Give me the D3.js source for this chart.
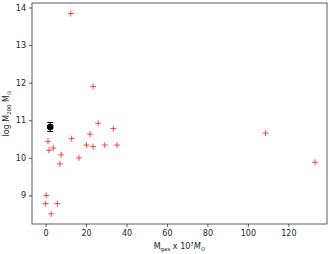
<!DOCTYPE html>
<html>
<head>
<meta charset="utf-8">
<script src="https://cdn.jsdelivr.net/npm/d3@7"></script>
<style>
  body { margin: 0; background: #fff; }
  text { font-family: "DejaVu Sans", sans-serif; fill: #222; }
</style>
</head>
<body>
<svg width="333" height="254"></svg>
<script>
// red points: gas mass (x 10^7 Msun) vs log M200
var gasMass = [12.5, 23.5, 26, 33.5, 22, 12.9, 1.2, 1.7, 3.8, 7.7, 7.1, 16.5, 20.2, 23.5, 29.3, 35.3, 0.35, 0, 5.8, 2.8, 108.7, 133.2];
var logM200 = [13.84, 11.9, 10.92, 10.78, 10.63, 10.51, 10.44, 10.2, 10.26, 10.08, 9.84, 10.0, 10.34, 10.30, 10.34, 10.34, 9.0, 8.78, 8.78, 8.51, 10.66, 9.88];
// the black point with error bar
var refX = [2.3];
var refY = [10.82];
var refErr = [0.12];

var xTicks = [0, 20, 40, 60, 80, 100, 120];
var yTicks = [9, 10, 11, 12, 13, 14];

var svg = d3.select("svg"),
    margin = {top: 3, right: 6, bottom: 30, left: 32},
    width = 333 - margin.left - margin.right,
    height = 254 - margin.top - margin.bottom,
    g = svg.append("g").attr("transform", "translate(" + margin.left + "," + margin.top + ")");

var x = d3.scaleLinear().domain([-6.7, 139.1]).range([0, width]);
var y = d3.scaleLinear().domain([8.24, 14.12]).range([height, 0]);

// axes
var xAxis = g.append("g")
    .attr("transform", "translate(0," + height + ")")
    .call(d3.axisBottom(x).tickValues(xTicks).tickFormat(d3.format("d")).tickSize(3).tickPadding(3));
var yAxis = g.append("g")
    .call(d3.axisLeft(y).tickValues(yTicks).tickFormat(d3.format("d")).tickSize(3).tickPadding(3));
[xAxis, yAxis].forEach(function(a) {
    a.select(".domain").remove();
    a.selectAll(".tick line").attr("stroke", "#333").attr("stroke-width", 0.8);
    a.selectAll(".tick text").style("font-size", "8px").attr("fill", "#222");
});

// frame
g.append("rect")
    .attr("width", width)
    .attr("height", height)
    .attr("fill", "none")
    .attr("stroke", "#333")
    .attr("stroke-width", 0.8);

// red + markers
var pts = gasMass.map((v, i) => ({x: v, y: logM200[i]}));
var s = 3;
g.selectAll(".plus")
    .data(pts)
    .enter().append("path")
    .attr("class", "plus")
    .attr("d", d => {
        var px = x(d.x), py = y(d.y);
        return "M" + (px - s) + "," + py + "H" + (px + s) + "M" + px + "," + (py - s) + "V" + (py + s);
    })
    .attr("stroke", "red")
    .attr("stroke-opacity", 0.7)
    .attr("stroke-width", 1);

// black point with error bar
var ref = refX.map((v, i) => ({x: v, y: refY[i], e: refErr[i]}));
var rg = g.selectAll(".ref").data(ref).enter().append("g").attr("class", "ref");
rg.append("line")
    .attr("x1", d => x(d.x)).attr("x2", d => x(d.x))
    .attr("y1", d => y(d.y - d.e)).attr("y2", d => y(d.y + d.e))
    .attr("stroke", "black").attr("stroke-width", 1);
[-1, 1].forEach(function(sg) {
    rg.append("line")
        .attr("x1", d => x(d.x) - 3).attr("x2", d => x(d.x) + 3)
        .attr("y1", d => y(d.y + sg * d.e)).attr("y2", d => y(d.y + sg * d.e))
        .attr("stroke", "black").attr("stroke-width", 1);
});
rg.append("circle")
    .attr("cx", d => x(d.x)).attr("cy", d => y(d.y))
    .attr("r", 3.3).attr("fill", "black");

// axis labels
var xl = svg.append("text")
    .attr("text-anchor", "middle")
    .attr("x", margin.left + width / 2)
    .attr("y", 249)
    .style("font-size", "8px");
xl.append("tspan").text("M");
xl.append("tspan").attr("dy", 2).style("font-size", "5.5px").text("gas");
xl.append("tspan").attr("dy", -2).text(" x 10");
xl.append("tspan").attr("dy", -3).style("font-size", "5.5px").text("7");
xl.append("tspan").attr("dy", 3).style("font-style", "italic").text("M");
xl.append("tspan").attr("dy", 2).style("font-size", "5.5px").text("\u2299");

var yl = svg.append("text")
    .attr("text-anchor", "middle")
    .attr("transform", "translate(9," + (margin.top + height / 2) + ") rotate(-90)")
    .style("font-size", "8px");
yl.append("tspan").text("log M");
yl.append("tspan").attr("dy", 2).style("font-size", "5.5px").text("200");
yl.append("tspan").attr("dy", -2).text(" M");
yl.append("tspan").attr("dy", 2).style("font-size", "5.5px").text("\u2299");
</script>
</body>
</html>
